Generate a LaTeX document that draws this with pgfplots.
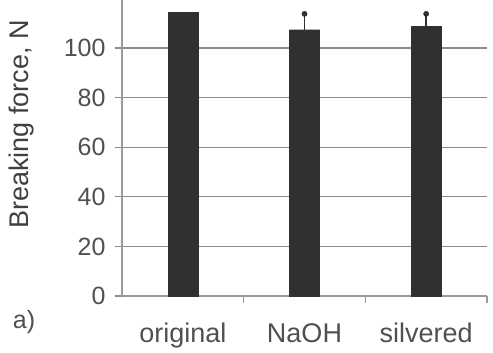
\documentclass[border=0pt]{standalone}
\usepackage{pgfplots}
\pgfplotsset{compat=1.18}
\usepackage{fontspec}
\setmainfont{Liberation Sans}
\definecolor{barfill}{HTML}{303030}
\definecolor{gridc}{HTML}{8C8C8C}
\definecolor{axisc}{HTML}{9A9A9A}
\definecolor{labc}{HTML}{505050}
\begin{document}
\begin{tikzpicture}[x=1pt,y=1pt]
\path[use as bounding box] (0,0) rectangle (493,353);
\begin{axis}[
  at={(122pt,57pt)}, anchor=south west,
  scale only axis, width=365pt, height=296pt,
  xmin=-0.5, xmax=2.5, ymin=0, ymax=119.4,
  axis x line*=bottom, axis y line*=left,
  axis line style={color=axisc, line width=1.3pt, -},
  xtick={0,1,2}, xticklabels={original,NaOH,silvered},
  minor xtick={0.5,1.5,2.5},
  ytick={0,20,40,60,80,100},
  tick align=outside,
  major tick length=7pt, minor tick length=7pt,
  x tick style={draw=none},
  minor x tick style={draw=axisc, line width=1.3pt},
  y tick style={draw=gridc, line width=1.3pt},
  ymajorgrids, grid style={color=gridc, line width=1.3pt},
  xticklabel style={font=\fontsize{27}{32}\selectfont, text=labc, anchor=base, yshift=-40pt},
  yticklabel style={font=\fontsize{25}{30}\selectfont, text=labc, xshift=-6pt},
  /pgf/number format/assume math mode=true,
  ylabel={Breaking force, N},
  ylabel style={font=\fontsize{27}{32}\selectfont, text=labc!80!black,
    at={(axis description cs:-0.275,0.58)}, anchor=center},
  clip=false,
]
% untreated yarn: no spread shown
\addplot[ybar, bar width=30pt, bar shift=0pt, fill=barfill, draw=barfill]
  coordinates {(0,114.3)};
% treated yarns with upper error bars
\addplot[ybar, bar width=30pt, bar shift=0pt, fill=barfill, draw=barfill,
  error bars/.cd, y dir=plus, y explicit,
  error bar style={color=barfill, line width=1.6pt},
  error mark=*,
  error mark options={draw=barfill, fill=barfill, mark size=2.6pt, line width=0.5pt}]
  coordinates {(1,107.4) +- (0,6.4) (2,108.7) +- (0,5.1)};
\end{axis}
\node[font=\fontsize{25}{30}\selectfont, text=labc] at (24,31) {a)};
\end{tikzpicture}
\end{document}
